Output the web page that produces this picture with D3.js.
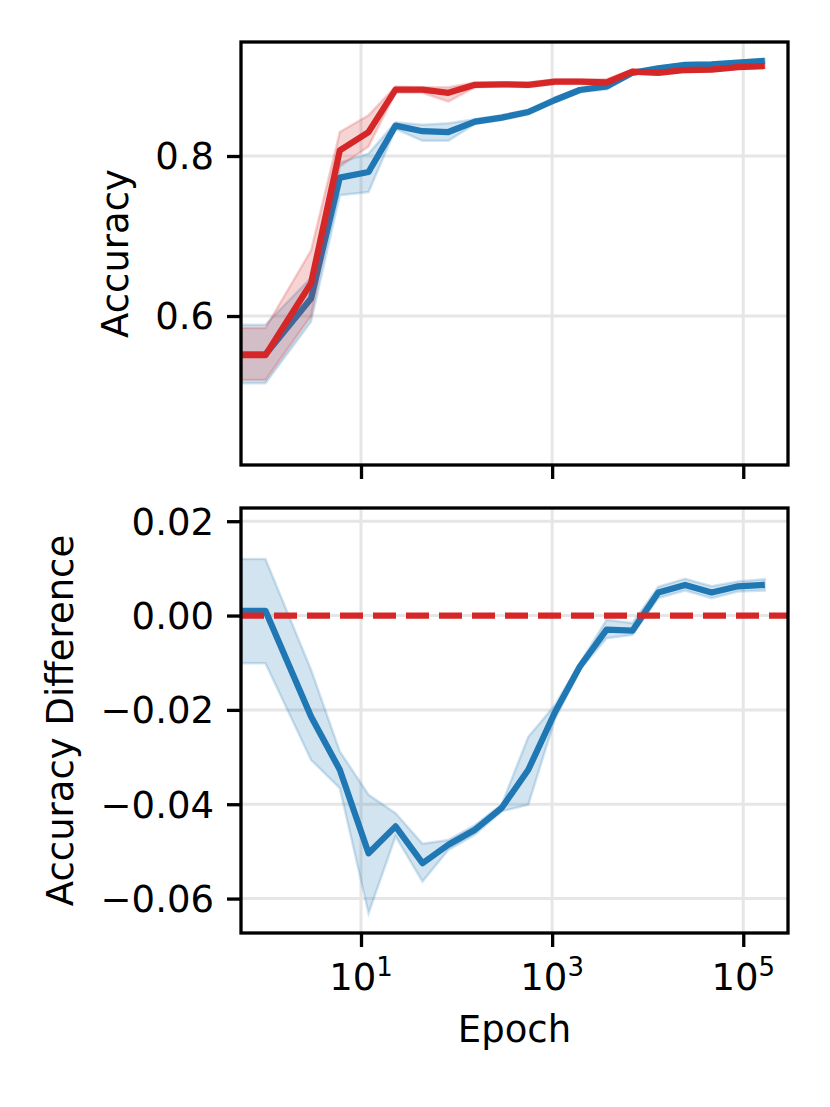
<!DOCTYPE html>
<html>
<head>
<meta charset="utf-8">
<script src="https://cdn.jsdelivr.net/npm/d3@7"></script>
<style>
  body { margin: 0; background: #fff; }
  text { font-family: "DejaVu Sans", sans-serif; fill: #000; }
</style>
</head>
<body>
<script>
// values
const epochs = [0, 1, 3, 6, 12, 23, 44, 82, 156, 296, 563, 1070, 1950, 3715, 6920, 12900, 24600, 46600, 88500, 168000];

const accBlue   = [0.552, 0.552, 0.622, 0.773, 0.780, 0.838, 0.831, 0.830, 0.843, 0.848, 0.855, 0.870, 0.8825, 0.887, 0.904, 0.9095, 0.914, 0.9145, 0.9167, 0.919];
const accBlueLo = [0.516, 0.516, 0.593, 0.751, 0.755, 0.834, 0.819, 0.819, 0.840, 0.845, 0.852, 0.867, 0.880, 0.883, 0.902, 0.907, 0.912, 0.912, 0.914, 0.917];
const accBlueHi = [0.589, 0.589, 0.648, 0.792, 0.803, 0.842, 0.839, 0.841, 0.846, 0.851, 0.858, 0.873, 0.885, 0.890, 0.906, 0.912, 0.916, 0.917, 0.919, 0.921];

const accRed   = [0.551, 0.551, 0.641, 0.807, 0.830, 0.883, 0.883, 0.879, 0.889, 0.8896, 0.889, 0.893, 0.893, 0.892, 0.9055, 0.904, 0.9075, 0.908, 0.911, 0.9125];
const accRedLo = [0.520, 0.520, 0.600, 0.787, 0.812, 0.879, 0.879, 0.868, 0.886, 0.887, 0.886, 0.890, 0.890, 0.888, 0.903, 0.902, 0.905, 0.906, 0.909, 0.910];
const accRedHi = [0.585, 0.585, 0.682, 0.830, 0.851, 0.887, 0.886, 0.886, 0.892, 0.892, 0.892, 0.896, 0.896, 0.896, 0.908, 0.906, 0.910, 0.910, 0.913, 0.915];

const diff   = [0.001, 0.001, -0.0214, -0.0327, -0.0504, -0.0447, -0.0525, -0.0486, -0.0454, -0.0408, -0.0327, -0.0205, -0.0108, -0.0030, -0.0032, 0.0049, 0.0065, 0.0049, 0.0062, 0.0065];
const diffLo = [-0.0101, -0.0101, -0.0306, -0.0366, -0.0631, -0.0468, -0.0564, -0.0497, -0.0464, -0.0415, -0.0401, -0.0220, -0.0115, -0.0048, -0.0041, 0.0037, 0.0053, 0.0037, 0.0051, 0.0053];
const diffHi = [0.012, 0.012, -0.0115, -0.0288, -0.038, -0.0419, -0.0484, -0.0476, -0.0444, -0.0401, -0.0257, -0.0190, -0.0101, -0.0009, -0.0016, 0.0061, 0.0078, 0.0062, 0.0072, 0.0077];

const xTicks = [10, 1000, 100000];
const xTickExp = ["1", "3", "5"];
const accTicks = [0.6, 0.8];
const diffTicks = [0.02, 0.00, -0.02, -0.04, -0.06];

const blue = "#1f77b4", red = "#d62728";
const W = 830, H = 1107;
const left = 241, right = 788;
const top1 = 42, bot1 = 465, top2 = 508, bot2 = 933;
const fontSize = 37, tickLen = 14;

let svg = d3.select("body").append("svg").attr("width", W).attr("height", H);

// epoch 0 sits at the left edge, like the log axis clips it
let x = d3.scaleLog().domain([0.555, 293900]).range([left, right]).clamp(true);
let yAcc = d3.scaleLinear().domain([0.4138, 0.9425]).range([bot1, top1]);
let yDiff = d3.scaleLinear().domain([-0.0673, 0.0228]).range([bot2, top2]);

drawPanel(yAcc, top1, bot1, accTicks, d => d.toFixed(1), "clipA", false);
drawPanel(yDiff, top2, bot2, diffTicks, d => d3.format(".2f")(d).replace("-", "\u2212"), "clipB", true);

let gA = svg.append("g").attr("clip-path", "url(#clipA)");
drawSeries(gA, yAcc, accBlue, accBlueLo, accBlueHi, blue);
drawSeries(gA, yAcc, accRed, accRedLo, accRedHi, red);

let gB = svg.append("g").attr("clip-path", "url(#clipB)");
drawSeries(gB, yDiff, diff, diffLo, diffHi, blue);
gB.append("line")
  .attr("x1", left).attr("x2", right)
  .attr("y1", yDiff(0)).attr("y2", yDiff(0))
  .attr("stroke", red).attr("stroke-width", 6.25)
  .attr("stroke-dasharray", "23,10");

// frames on top
[[top1, bot1], [top2, bot2]].forEach(([t, b]) => {
  svg.append("rect")
    .attr("x", left).attr("y", t)
    .attr("width", right - left).attr("height", b - t)
    .attr("fill", "none").attr("stroke", "#000").attr("stroke-width", 3.3);
});

// axis labels
svg.append("text")
  .attr("transform", `translate(128, ${(top1 + bot1) / 2}) rotate(-90)`)
  .attr("text-anchor", "middle")
  .style("font-size", fontSize + "px")
  .text("Accuracy");

svg.append("text")
  .attr("transform", `translate(73, ${(top2 + bot2) / 2}) rotate(-90)`)
  .attr("text-anchor", "middle")
  .style("font-size", fontSize + "px")
  .text("Accuracy Difference");

svg.append("text")
  .attr("x", (left + right) / 2).attr("y", 1042)
  .attr("text-anchor", "middle")
  .style("font-size", fontSize + "px")
  .text("Epoch");

function drawPanel(y, t, b, ticks, fmt, clipId, withXLabels) {
  svg.append("clipPath").attr("id", clipId)
    .append("rect").attr("x", left).attr("y", t)
    .attr("width", right - left).attr("height", b - t);

  let grid = svg.append("g").attr("stroke", "#e6e6e6").attr("stroke-width", 3);
  grid.selectAll(".gx").data(xTicks).enter().append("line")
    .attr("x1", d => x(d)).attr("x2", d => x(d))
    .attr("y1", t).attr("y2", b);
  grid.selectAll(".gy").data(ticks).enter().append("line")
    .attr("x1", left).attr("x2", right)
    .attr("y1", d => y(d)).attr("y2", d => y(d));

  // y axis
  let ya = svg.append("g")
    .attr("transform", `translate(${left}, 0)`)
    .call(d3.axisLeft(y).tickValues(ticks).tickFormat(fmt).tickSize(tickLen).tickPadding(13));
  ya.select(".domain").remove();
  ya.selectAll(".tick line").attr("stroke-width", 3.3);
  ya.selectAll(".tick text").style("font-size", fontSize + "px").attr("dy", "0.35em");

  // x axis
  let xa = svg.append("g")
    .attr("transform", `translate(0, ${b})`)
    .call(d3.axisBottom(x).tickValues(xTicks).tickFormat("").tickSize(tickLen));
  xa.select(".domain").remove();
  xa.selectAll(".tick line").attr("stroke-width", 3.3);
  xa.selectAll(".tick text").remove();

  if (withXLabels) {
    let lab = svg.append("g").selectAll("text").data(xTicks).enter().append("text")
      .attr("x", d => x(d)).attr("y", b + 57)
      .attr("text-anchor", "middle")
      .style("font-size", fontSize + "px");
    lab.append("tspan").text("10");
    lab.append("tspan").attr("dy", -14).style("font-size", "26px")
      .text((d, i) => xTickExp[i]);
  }
}

function drawSeries(g, y, vals, lo, hi, color) {
  let band = epochs.map((e, i) => ({e: e, lo: lo[i], hi: hi[i]}));
  let pts = epochs.map((e, i) => ({e: e, v: vals[i]}));

  g.append("path").datum(band)
    .attr("d", d3.area().x(d => x(d.e)).y0(d => y(d.lo)).y1(d => y(d.hi)))
    .attr("fill", color).attr("fill-opacity", 0.2)
    .attr("stroke", color).attr("stroke-opacity", 0.2).attr("stroke-width", 2.5);

  g.append("path").datum(pts)
    .attr("d", d3.line().x(d => x(d.e)).y(d => y(d.v)))
    .attr("fill", "none").attr("stroke", color)
    .attr("stroke-width", 6.25).attr("stroke-linejoin", "round");
}
</script>
</body>
</html>
